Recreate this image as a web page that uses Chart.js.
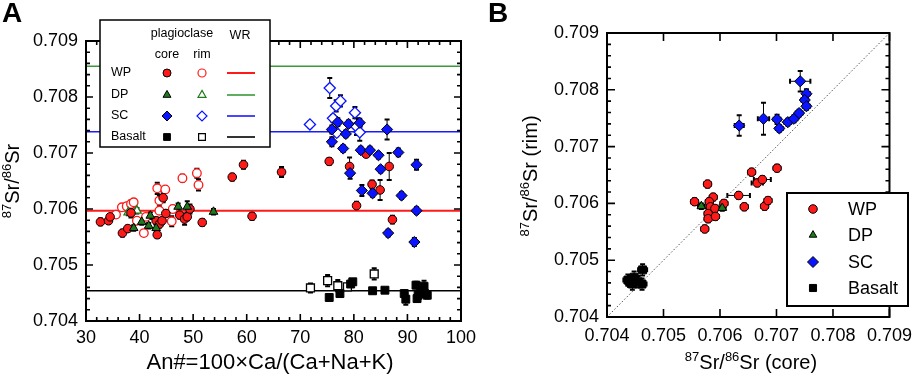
<!DOCTYPE html>
<html><head><meta charset="utf-8">
<script src="https://cdn.jsdelivr.net/npm/chart.js@4/dist/chart.umd.min.js"></script>
<style>
html,body{margin:0;padding:0;background:#fff;width:920px;height:377px;overflow:hidden;}
#wrap{position:relative;width:920px;height:377px;}
canvas{position:absolute;top:0;}
#ca{left:0;width:485px;height:377px;}
#cb{left:485px;width:435px;height:377px;}
</style></head><body>
<div id="wrap">
<canvas id="ca" width="485" height="377"></canvas>
<canvas id="cb" width="435" height="377"></canvas>
</div>
<script>
// ---------------- DATA ----------------
// Panel A : An# vs 87Sr/86Sr
const aXTicks = [30, 40, 50, 60, 70, 80, 90, 100];
const aYTicks = [0.704, 0.705, 0.706, 0.707, 0.708, 0.709];
const groups = ['WP', 'DP', 'SC', 'Basalt'];
const wrSr = [0.70597, 0.70855, 0.70738, 0.70454]; // whole-rock lines WP, DP, SC, Basalt

const aWpCoreAn = [32.7,34.2,34.5,36.8,37.8,38.4,43.3,43.1,43.7,44.2,44.4,44.9,47.5,48.4,48.9,49.4,51.7,57.3,59.4,61.0,66.5,75.4,79.2,80.5,82.3,83.4,84.9,86.6,87.2];
const aWpCoreSr = [0.70577,0.70579,0.70586,0.70557,0.70565,0.70593,0.70554,0.70579,0.70573,0.70579,0.70620,0.70592,0.70589,0.70582,0.70586,0.70600,0.70576,0.70657,0.70679,0.70587,0.70666,0.70685,0.70676,0.70606,0.70698,0.70644,0.70634,0.70676,0.70581];
const aWpCoreErr = [0.00006,0.00006,0.00005,0.00006,0.00005,0.00008,0.00006,0.00006,0.00006,0.00006,0.00008,0.00006,0.00006,0.00010,0.00006,0.00008,0.00006,0.00006,0.00007,0.00006,0.00009,0.00006,0.00016,0.00007,0.00005,0.00007,0.00018,0.00024,0.00007];

const aWpRimAn = [35.6,36.7,37.6,38.4,38.9,39.5,40.8,41.2,43.3,43.7,43.7,44.8,46.0,46.2,48.0,50.7,51.0];
const aWpRimSr = [0.70590,0.70603,0.70605,0.70609,0.70612,0.70579,0.70557,0.70586,0.70637,0.70615,0.70597,0.70635,0.70578,0.70600,0.70655,0.70664,0.70643];
const aWpRimErr = [0.00005,0.00005,0.00005,0.00006,0.00006,0.00005,0.00005,0.00005,0.00010,0.00010,0.00005,0.00005,0.00009,0.00006,0.00006,0.00008,0.00010];

const aDpCoreAn = [38.9,40.4,41.7,42.0,43.1,47.2,48.9,53.8];
const aDpCoreSr = [0.70566,0.70577,0.70570,0.70588,0.70566,0.70604,0.70604,0.70595];
const aDpCoreErr = [0.00005,0.00005,0.00005,0.00006,0.00006,0.00006,0.00010,0.00005];

const aDpRimAn = [37.9,39.5];
const aDpRimSr = [0.70594,0.70597];
const aDpRimErr = [0.00005,0.00005];

const aScCoreAn = [75.9,77.0,79.0,81.1,75.9,78.5,78.0,81.3,83.0,84.6,88.3,86.2,79.3,85.0,91.7,81.5,83.5,88.9,91.7,86.4,91.3];
const aScCoreSr = [0.70742,0.70755,0.70752,0.70754,0.70720,0.70734,0.70708,0.70705,0.70705,0.70696,0.70701,0.70742,0.70664,0.70671,0.70679,0.70633,0.70628,0.70624,0.70597,0.70557,0.70541];
const aScCoreErr = [0.00007,0.00007,0.00006,0.00007,0.00008,0.00006,0.00006,0.00006,0.00006,0.00006,0.00007,0.00018,0.00010,0.00006,0.00009,0.00010,0.00006,0.00006,0.00006,0.00006,0.00007];

const aScRimAn = [71.8,75.5,76.7,77.5,76.1,76.8,80.2,80.5,81.1];
const aScRimSr = [0.70751,0.70816,0.70784,0.70793,0.70762,0.70736,0.70772,0.70747,0.70737];
const aScRimErr = [0.00005,0.00018,0.00010,0.00010,0.00006,0.00006,0.00010,0.00015,0.00015];

const aBasCoreAn = [75.4,77.4,79.4,79.8,83.5,85.8,89.4,89.7,91.6,92.0,92.5,93.1,93.2,93.7,91.8];
const aBasCoreSr = [0.70442,0.70449,0.70466,0.70470,0.70454,0.70455,0.70449,0.70439,0.70464,0.70446,0.70455,0.70462,0.70449,0.70446,0.70440];
const aBasCoreErr = [0.00005,0.00005,0.00005,0.00005,0.00005,0.00004,0.00006,0.00010,0.00006,0.00006,0.00006,0.00010,0.00006,0.00006,0.00006];

const aBasRimAn = [71.9,75.1,77.0,78.8,83.8];
const aBasRimSr = [0.70459,0.70472,0.70463,0.70461,0.70484];
const aBasRimErr = [0.00008,0.00010,0.00010,0.00005,0.00010];

// Panel B : core vs rim 87Sr/86Sr
const bTicks = [0.704, 0.705, 0.706, 0.707, 0.708, 0.709];
const bWpCore = [0.70578,0.70555,0.70588,0.70581,0.70583,0.70591,0.70579,0.70579,0.70592,0.70573,0.70607,0.70633,0.70643,0.70656,0.70666,0.70675,0.70701,0.70679,0.70685];
const bWpRim  = [0.70634,0.70603,0.70611,0.70603,0.70594,0.70591,0.70582,0.70573,0.70577,0.70555,0.70600,0.70614,0.70594,0.70655,0.70636,0.70642,0.70662,0.70595,0.70605];
const bWpCoreErr = [0.00006,0.00006,0.00006,0.00006,0.00006,0.00006,0.00006,0.00006,0.00006,0.00006,0.00006,0.00020,0.00006,0.00006,0.00010,0.00015,0.00006,0.00006,0.00006];
const bWpRimErr  = [0.00006,0.00006,0.00006,0.00006,0.00006,0.00006,0.00006,0.00006,0.00006,0.00006,0.00006,0.00006,0.00006,0.00006,0.00006,0.00006,0.00006,0.00006,0.00006];
const bDpCore = [0.70567,0.70604];
const bDpRim  = [0.70595,0.70592];
const bDpCoreErr = [0.00006,0.00006];
const bDpRimErr  = [0.00005,0.00005];
const bScCore = [0.70742,0.70634,0.70677,0.70701,0.70705,0.70720,0.70731,0.70740,0.70753,0.70750,0.70753];
const bScRim  = [0.70815,0.70737,0.70749,0.70748,0.70732,0.70743,0.70749,0.70759,0.70793,0.70782,0.70771];
const bScCoreErr = [0.00018,0.00008,0.00010,0.00006,0.00006,0.00006,0.00006,0.00006,0.00006,0.00006,0.00006];
const bScRimErr  = [0.00018,0.00018,0.00028,0.00008,0.00006,0.00006,0.00006,0.00006,0.00008,0.00006,0.00006];
const bBasCore = [0.70440,0.70448,0.70463,0.70462,0.70455,0.70437,0.70445];
const bBasRim  = [0.70463,0.70470,0.70483,0.70458,0.70462,0.70465,0.70458];
const bBasCoreErr = [0.00008,0.00008,0.00008,0.00008,0.00008,0.00008,0.00008];
const bBasRimErr  = [0.00010,0.00010,0.00010,0.00010,0.00010,0.00010,0.00010];

// ---------------- STYLE ----------------
const FONT = "'Liberation Sans', Arial, Helvetica, sans-serif";
const COL = { WP: '#ff1a1a', DP: '#1d7a1d', SC: '#0a14ff', Basalt: '#000000' };
const WRCOL = { WP: '#ff1a1a', DP: '#3a9a3a', SC: '#1a1aff', Basalt: '#000000' };
const SHAPE = { WP: 'circle', DP: 'triangle', SC: 'rectRot', Basalt: 'rect' };
const RAD = { WP: 4.3, DP: 5, SC: 5.6, Basalt: 5.6 };

Chart.defaults.font.family = FONT;

function pts(xs, ys) { return xs.map((x, i) => ({ x: x, y: ys[i] })); }

function coreDs(g, xs, ys, ex, ey, order) {
  return { label: g + ' core', data: pts(xs, ys), errX: ex, errY: ey, order: order,
    pointStyle: SHAPE[g], pointRadius: RAD[g], pointBackgroundColor: COL[g],
    pointBorderColor: '#000', pointBorderWidth: 1, showLine: false };
}
function rimDs(g, xs, ys, ey, order) {
  return { label: g + ' rim', data: pts(xs, ys), errY: ey, order: order,
    pointStyle: SHAPE[g], pointRadius: RAD[g], pointBackgroundColor: '#fff',
    pointBorderColor: COL[g], pointBorderWidth: 1.3, showLine: false };
}
function drawMarker(ctx, style, x, y, r, fill, stroke, lw) {
  ctx.beginPath();
  if (style === 'circle') ctx.arc(x, y, r, 0, Math.PI * 2);
  else if (style === 'triangle') {
    for (let k = 0; k < 3; k++) {
      const a = k * 2 * Math.PI / 3;
      const px = x + Math.sin(a) * r, py = y - Math.cos(a) * r;
      k ? ctx.lineTo(px, py) : ctx.moveTo(px, py);
    }
    ctx.closePath();
  } else if (style === 'rectRot') {
    ctx.moveTo(x - r, y); ctx.lineTo(x, y - r); ctx.lineTo(x + r, y); ctx.lineTo(x, y + r); ctx.closePath();
  } else {
    const s = Math.SQRT1_2 * r; ctx.rect(x - s, y - s, 2 * s, 2 * s);
  }
  ctx.fillStyle = fill; ctx.fill();
  ctx.strokeStyle = stroke; ctx.lineWidth = lw; ctx.stroke();
}
function drawRich(ctx, parts, cx, cy, rot, base, sup) {
  ctx.save(); ctx.translate(cx, cy); ctx.rotate(rot);
  let w = 0;
  parts.forEach(p => { ctx.font = (p.s ? sup : base) + 'px ' + FONT; p.w = ctx.measureText(p.t).width; w += p.w; });
  let x = -w / 2; const bl = base * 0.36;
  ctx.fillStyle = '#000'; ctx.textBaseline = 'alphabetic'; ctx.textAlign = 'left';
  parts.forEach(p => { ctx.font = (p.s ? sup : base) + 'px ' + FONT; ctx.fillText(p.t, x, p.s ? bl - base * 0.42 : bl); x += p.w; });
  ctx.restore();
}

// Error bars
const errorBars = {
  id: 'errorBars',
  beforeDatasetsDraw(chart) {
    const ctx = chart.ctx, xs = chart.scales.x, ys = chart.scales.y;
    ctx.save();
    ctx.strokeStyle = '#000';
    chart.data.datasets.forEach(ds => {
      if (!ds.errX && !ds.errY) return;
      ds.data.forEach((p, i) => {
        const px = xs.getPixelForValue(p.x), py = ys.getPixelForValue(p.y);
        const ey = ds.errY ? ds.errY[i] : 0, ex = ds.errX ? ds.errX[i] : 0;
        if (ey) {
          const y1 = ys.getPixelForValue(p.y - ey), y2 = ys.getPixelForValue(p.y + ey);
          ctx.lineWidth = 1; ctx.beginPath(); ctx.moveTo(px, y1); ctx.lineTo(px, y2); ctx.stroke();
          ctx.lineWidth = 2; ctx.beginPath();
          ctx.moveTo(px - 2.5, y1); ctx.lineTo(px + 2.5, y1); ctx.moveTo(px - 2.5, y2); ctx.lineTo(px + 2.5, y2); ctx.stroke();
        }
        if (ex) {
          const x1 = xs.getPixelForValue(p.x - ex), x2 = xs.getPixelForValue(p.x + ex);
          ctx.lineWidth = 1; ctx.beginPath(); ctx.moveTo(x1, py); ctx.lineTo(x2, py); ctx.stroke();
          ctx.lineWidth = 2; ctx.beginPath();
          ctx.moveTo(x1, py - 2.5); ctx.lineTo(x1, py + 2.5); ctx.moveTo(x2, py - 2.5); ctx.lineTo(x2, py + 2.5); ctx.stroke();
        }
      });
    });
    ctx.restore();
  }
};

// Frame with inner ticks on all four sides
const frameTicks = {
  id: 'frameTicks',
  afterDatasetsDraw(chart, args, o) {
    const ctx = chart.ctx, a = chart.chartArea, x = chart.scales.x, y = chart.scales.y;
    ctx.save();
    ctx.strokeStyle = '#000';
    ctx.lineWidth = 1.6;
    ctx.beginPath();
    const tx = (v, len) => { const p = x.getPixelForValue(v); ctx.moveTo(p, a.bottom); ctx.lineTo(p, a.bottom - len); ctx.moveTo(p, a.top); ctx.lineTo(p, a.top + len); };
    const ty = (v, len) => { const p = y.getPixelForValue(v); ctx.moveTo(a.left, p); ctx.lineTo(a.left + len, p); ctx.moveTo(a.right, p); ctx.lineTo(a.right - len, p); };
    const nx = Math.round((x.max - x.min) / o.xMinor);
    for (let k = 0; k <= nx; k++) { const v = x.min + k * o.xMinor; const maj = o.xMajor.some(m => Math.abs(m - v) < o.xMinor / 10); tx(v, maj ? o.major : o.minor); }
    const ny = Math.round((y.max - y.min) / o.yMinor);
    for (let k = 0; k <= ny; k++) { const v = y.min + k * o.yMinor; const maj = o.yMajor.some(m => Math.abs(m - v) < o.yMinor / 10); ty(v, maj ? o.major : o.minor); }
    ctx.stroke();
    ctx.lineWidth = 2;
    ctx.strokeRect(a.left, a.top, a.right - a.left, a.bottom - a.top);
    ctx.restore();
  }
};

function axisCfg(ticks, min, max, fmt, pad, fitFn) {
  return {
    type: 'linear', min: min, max: max,
    afterBuildTicks: s => { s.ticks = ticks.map(v => ({ value: v })); },
    afterFit: fitFn,
    ticks: { font: { size: 18, family: FONT }, color: '#000', padding: pad, autoSkip: false, maxRotation: 0, callback: fmt },
    grid: { display: false, drawTicks: false },
    border: { display: false }
  };
}
const fmt3 = v => Number(v).toFixed(3);

// ---------------- PANEL A ----------------
const aDatasets = [
  coreDs('WP', aWpCoreAn, aWpCoreSr, null, aWpCoreErr, 4),
  coreDs('DP', aDpCoreAn, aDpCoreSr, null, aDpCoreErr, 3),
  coreDs('SC', aScCoreAn, aScCoreSr, null, aScCoreErr, 2),
  coreDs('Basalt', aBasCoreAn, aBasCoreSr, null, aBasCoreErr, 1),
  rimDs('WP', aWpRimAn, aWpRimSr, aWpRimErr, 8),
  rimDs('DP', aDpRimAn, aDpRimSr, aDpRimErr, 7),
  rimDs('SC', aScRimAn, aScRimSr, aScRimErr, 6),
  rimDs('Basalt', aBasRimAn, aBasRimSr, aBasRimErr, 5)
];
groups.forEach((g, i) => {
  aDatasets.push({ label: g + ' WR', data: [{ x: aXTicks[0], y: wrSr[i] }, { x: aXTicks[aXTicks.length - 1], y: wrSr[i] }],
    showLine: true, borderColor: WRCOL[g], borderWidth: g === 'WP' ? 2 : 1.6, pointRadius: 0, order: 20 });
});

const legendA = {
  id: 'legendA',
  afterDraw(chart) {
    const ctx = chart.ctx;
    ctx.save();
    ctx.fillStyle = '#fff'; ctx.fillRect(100, 20, 170, 127);
    ctx.strokeStyle = '#000'; ctx.lineWidth = 1.5; ctx.strokeRect(100, 20, 170, 127);
    ctx.fillStyle = '#000'; ctx.font = '12.5px ' + FONT; ctx.textBaseline = 'middle'; ctx.textAlign = 'center';
    ctx.fillText('plagioclase', 182, 34);
    ctx.fillText('WR', 240, 36);
    ctx.fillText('core', 167, 55);
    ctx.fillText('rim', 202, 55);
    const rows = [73, 95, 116, 137];
    groups.forEach((g, i) => {
      const yy = rows[i];
      ctx.fillStyle = '#000'; ctx.textAlign = 'left'; ctx.font = '12.5px ' + FONT;
      ctx.fillText(g, 111, yy);
      const r = g === 'SC' ? 5 : (g === 'WP' ? 4 : (g === 'DP' ? 4.6 : 4.8));
      drawMarker(ctx, SHAPE[g], 167, yy, r, COL[g], '#000', 1);
      drawMarker(ctx, SHAPE[g], 202, yy, r, '#fff', COL[g], 1.2);
      ctx.strokeStyle = WRCOL[g]; ctx.lineWidth = g === 'WP' ? 2 : 1.6;
      ctx.beginPath(); ctx.moveTo(227, yy); ctx.lineTo(255, yy); ctx.stroke();
    });
    // titles
    drawRich(ctx, [{ t: '87', s: 1 }, { t: 'Sr/' }, { t: '86', s: 1 }, { t: 'Sr' }], 12, 181, -Math.PI / 2, 20, 13);
    ctx.font = '22px ' + FONT; ctx.fillStyle = '#000'; ctx.textAlign = 'center'; ctx.textBaseline = 'middle';
    ctx.fillText('An#=100×Ca/(Ca+Na+K)', 270, 363);
    ctx.font = 'bold 28px ' + FONT; ctx.textAlign = 'left'; ctx.textBaseline = 'middle';
    ctx.fillText('A', 2, 14);
    ctx.restore();
  }
};

new Chart(document.getElementById('ca'), {
  type: 'scatter',
  data: { datasets: aDatasets },
  options: {
    responsive: false, animation: false, devicePixelRatio: 1,
    layout: { padding: { left: 0, top: 41, right: 24, bottom: 0 } },
    plugins: { legend: { display: false }, tooltip: { enabled: false },
      frameTicks: { xMajor: aXTicks, yMajor: aYTicks, xMinor: 2, yMinor: 0.0002, major: 7, minor: 4 } },
    scales: {
      x: axisCfg(aXTicks, 30, 100, v => String(v), 6, s => { s.height = 56; }),
      y: axisCfg(aYTicks, 0.704, 0.709, fmt3, 8, s => { s.width = 86; })
    }
  },
  plugins: [errorBars, frameTicks, legendA]
});

// ---------------- PANEL B ----------------
const bDatasets = [
  coreDs('WP', bWpCore, bWpRim, bWpCoreErr, bWpRimErr, 4),
  coreDs('DP', bDpCore, bDpRim, bDpCoreErr, bDpRimErr, 3),
  coreDs('SC', bScCore, bScRim, bScCoreErr, bScRimErr, 2),
  coreDs('Basalt', bBasCore, bBasRim, bBasCoreErr, bBasRimErr, 1),
  { label: '1:1', data: [{ x: bTicks[0], y: bTicks[0] }, { x: bTicks[bTicks.length - 1], y: bTicks[bTicks.length - 1] }],
    showLine: true, borderColor: '#555', borderWidth: 1, borderDash: [1.5, 2], pointRadius: 0, order: 20 }
];

const legendB = {
  id: 'legendB',
  afterDraw(chart) {
    const ctx = chart.ctx;
    ctx.save();
    ctx.fillStyle = '#fff'; ctx.fillRect(302, 193, 121, 113);
    ctx.strokeStyle = '#000'; ctx.lineWidth = 2; ctx.strokeRect(302, 193, 121, 113);
    const rows = [209, 235, 262, 288];
    groups.forEach((g, i) => {
      const r = g === 'SC' ? 5.5 : (g === 'WP' ? 4.3 : (g === 'DP' ? 4.4 : 5));
      drawMarker(ctx, SHAPE[g], 328, rows[i], r, COL[g], '#000', 1);
      ctx.fillStyle = '#000'; ctx.font = '18px ' + FONT; ctx.textAlign = 'left'; ctx.textBaseline = 'middle';
      ctx.fillText(g, 363, rows[i] + 1);
    });
    drawRich(ctx, [{ t: '87', s: 1 }, { t: 'Sr/' }, { t: '86', s: 1 }, { t: 'Sr (rim)' }], 45, 176, -Math.PI / 2, 20, 13);
    drawRich(ctx, [{ t: '87', s: 1 }, { t: 'Sr/' }, { t: '86', s: 1 }, { t: 'Sr (core)' }], 266, 362, 0, 20, 13);
    ctx.fillStyle = '#000'; ctx.font = 'bold 28px ' + FONT; ctx.textAlign = 'left'; ctx.textBaseline = 'middle';
    ctx.fillText('B', 3, 14);
    ctx.restore();
  }
};

new Chart(document.getElementById('cb'), {
  type: 'scatter',
  data: { datasets: bDatasets },
  options: {
    responsive: false, animation: false, devicePixelRatio: 1,
    layout: { padding: { left: 0, top: 33, right: 26, bottom: 0 } },
    plugins: { legend: { display: false }, tooltip: { enabled: false },
      frameTicks: { xMajor: bTicks, yMajor: bTicks, xMinor: 0.001, yMinor: 0.0002, major: 8, minor: 4 } },
    scales: {
      x: axisCfg(bTicks, 0.704, 0.709, fmt3, 8, s => { s.height = 60; }),
      y: axisCfg(bTicks, 0.704, 0.709, fmt3, 8, s => { s.width = 122; })
    }
  },
  plugins: [errorBars, frameTicks, legendB]
});
</script>
</body></html>
